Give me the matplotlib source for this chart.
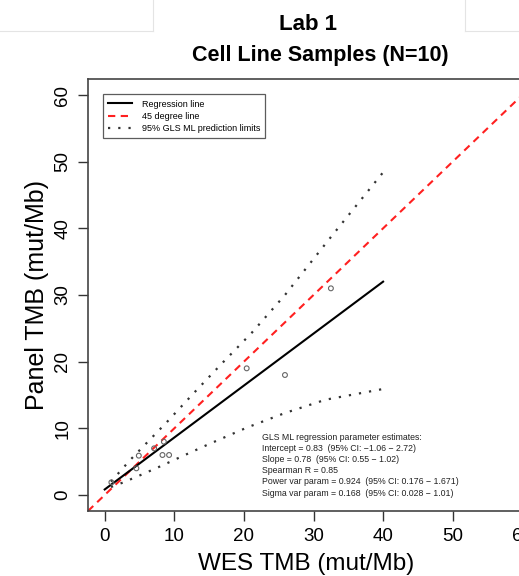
import matplotlib
matplotlib.use("Agg")
import matplotlib.pyplot as plt
from matplotlib.lines import Line2D

plt.rcParams["font.family"] = ["Liberation Sans", "DejaVu Sans"]

wes = [0.96, 4.55, 4.9, 7.1, 8.3, 8.5, 9.25, 20.4, 25.9, 32.5]
panel = [1.9, 4.0, 5.9, 7.0, 6.0, 8.0, 6.0, 19.0, 18.0, 31.0]

# fitted regression line endpoints
reg_x = [0, 40]
reg_y = [0.83, 32.0]

# 95% GLS ML prediction limits
upper_x = [0.9, 3.7, 8.9, 12.9, 16.9, 21.1, 25.9, 32.5, 40]
upper_y = [2.0, 5.3, 10.9, 15.4, 19.8, 24.3, 30.0, 38.7, 48.4]
lower_x = [0.9, 2.6, 5.4, 8.2, 10.9, 14.9, 20.4, 25.9, 31.75, 40]
lower_y = [1.2, 1.86, 3.1, 4.4, 5.7, 7.6, 10.1, 12.3, 14.3, 15.9]

ticks = [0, 10, 20, 30, 40, 50, 60]
stats_lines = [
    "GLS ML regression parameter estimates:",
    "Intercept = 0.83  (95% CI: \u22121.06 \u2212 2.72)",
    "Slope = 0.78  (95% CI: 0.55 \u2212 1.02)",
    "Spearman R = 0.85",
    "Power var param = 0.924  (95% CI: 0.176 \u2212 1.671)",
    "Sigma var param = 0.168  (95% CI: 0.028 \u2212 1.01)",
]

W, H = 519, 576
fig = plt.figure(figsize=(W / 100, H / 100), dpi=100)

# axes box in pixels: left 88, right 539 (beyond the crop), top 79, bottom 511
left, right, top, bottom = 88, 539, 79, 511
ax = fig.add_axes([left / W, (H - bottom) / H, (right - left) / W, (bottom - top) / H])
ax.set_xlim(-2.4, 62.4)
ax.set_ylim(-2.4, 62.4)

ax.plot([-2.4, 62.4], [-2.4, 62.4], color="#ff2020", lw=1.5,
        linestyle=(0, (3.5, 2.6)), label="45 degree line")
ax.plot(reg_x, reg_y, color="black", lw=1.5, label="Regression line")
ax.plot(upper_x, upper_y, color="#333333", lw=1.6, linestyle=(0, (1, 3.6)),
        dash_capstyle="butt", label="95% GLS ML prediction limits")
ax.plot(lower_x, lower_y, color="#333333", lw=1.6, linestyle=(0, (1, 3.6)),
        dash_capstyle="butt")
ax.scatter(wes, panel, s=12, facecolors="none", edgecolors="#666666",
           linewidths=0.8, zorder=3)

ax.set_xticks(ticks)
ax.set_yticks(ticks)
ax.set_xticklabels([str(t) for t in ticks], fontsize=13.5)
ax.set_yticklabels([str(t) for t in ticks], fontsize=13.5, rotation=90, va="center")
ax.tick_params(direction="out", length=7, width=1, color="#333333", pad=5)
for s in ax.spines.values():
    s.set_color("#444444")
    s.set_linewidth(1.2)

ax.set_xlabel("WES TMB (mut/Mb)", fontsize=17.5, labelpad=5)
ax.xaxis.set_label_coords(0.483, -0.097)
ax.set_ylabel("Panel TMB (mut/Mb)", fontsize=18, labelpad=4)

handles = [
    Line2D([], [], color="black", lw=1.5),
    Line2D([], [], color="#ff2020", lw=1.5, linestyle=(0, (3.5, 2.6))),
    Line2D([], [], color="#333333", lw=1.6, linestyle=(0, (1, 3.6))),
]
leg = ax.legend(handles, ["Regression line", "45 degree line",
                          "95% GLS ML prediction limits"],
                loc="upper left", bbox_to_anchor=(0.033, 0.965), fontsize=6.5,
                frameon=True, fancybox=False, handlelength=2.6,
                labelspacing=0.35, borderpad=0.6, handletextpad=1.1,
                borderaxespad=0)
leg.get_frame().set_edgecolor("#333333")
leg.get_frame().set_linewidth(0.9)

y0 = 437
for i, line in enumerate(stats_lines):
    fig.text(262 / W, 1 - (y0 + i * 11.2) / H, line, fontsize=6.3,
             ha="left", va="center", color="#222222")

# title
fig.text(308 / W, 1 - 25 / H, "Lab 1", fontsize=16, fontweight="bold",
         ha="center", va="center")
fig.text(320 / W, 1 - 55 / H, "Cell Line Samples (N=10)", fontsize=15.5,
         fontweight="bold", ha="center", va="center")

# faint header frame
g = "#e4e4e4"
for xs, ys in [([0, 153], [31, 31]), ([153, 153], [0, 31]),
               ([465, 465], [0, 31]), ([465, W], [31, 31])]:
    fig.add_artist(Line2D([x / W for x in xs], [1 - y / H for y in ys],
                          color=g, lw=0.8))

fig.savefig("out.png", dpi=100)
